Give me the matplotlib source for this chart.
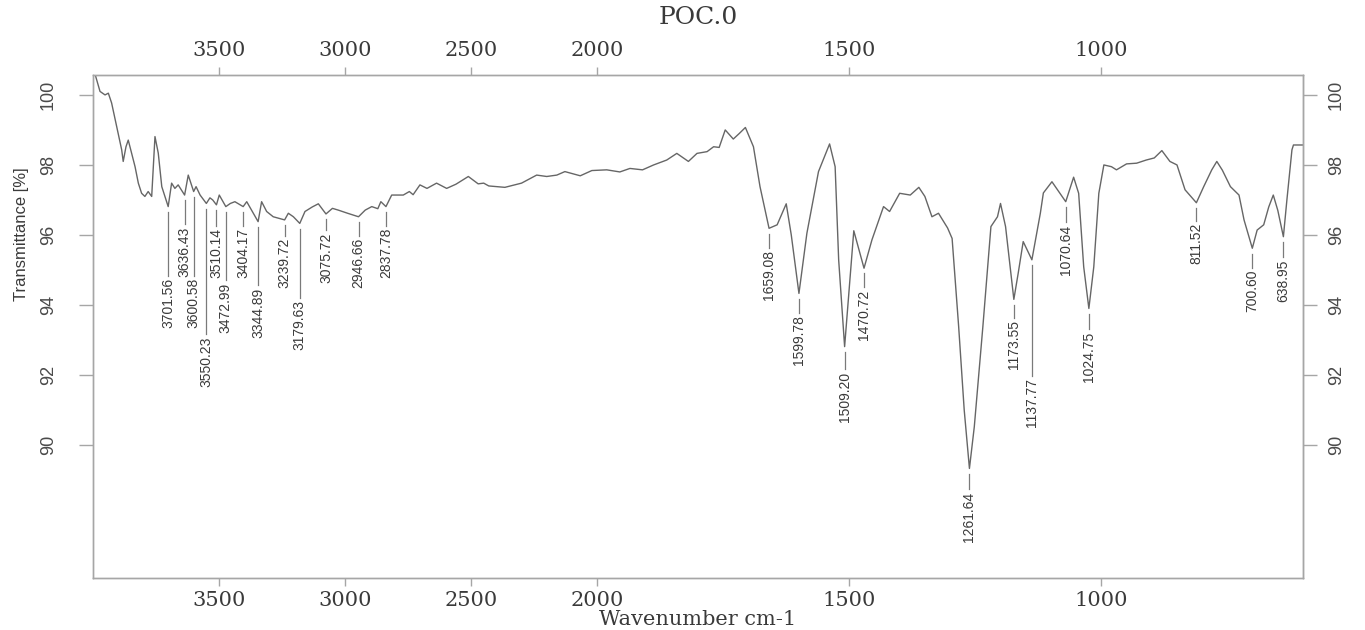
import numpy as np
import matplotlib
matplotlib.use('Agg')
import matplotlib.pyplot as plt
from matplotlib.ticker import FixedLocator, NullLocator

# FTIR spectrum of POC.0 (wavenumber cm-1, transmittance %)
wavenumber = [4000, 3972, 3952, 3939, 3926, 3906, 3886, 3880, 3869, 3860,
              3847, 3833, 3820, 3807, 3794, 3781, 3767, 3754, 3741, 3727,
              3701.56, 3688, 3675, 3662, 3636.43, 3622, 3600.58, 3591, 3575, 3550.23,
              3536, 3525, 3510.14, 3499, 3472.99, 3455, 3437, 3404.17, 3390, 3370,
              3344.89, 3331, 3311, 3285, 3239.72, 3225, 3205, 3179.63, 3159, 3130,
              3106, 3075.72, 3050, 3027, 2990, 2946.66, 2920, 2894, 2870, 2858,
              2837.78, 2815, 2769, 2745, 2730, 2703, 2675, 2637, 2597, 2560,
              2511, 2472, 2450, 2430, 2366, 2300, 2240, 2200, 2160, 2128,
              2067, 2021, 1981, 1955, 1935, 1910, 1888, 1862, 1842, 1819,
              1802, 1782, 1769, 1758, 1746, 1730, 1718, 1706, 1690, 1677,
              1659.08, 1643, 1625, 1615, 1599.78, 1584, 1561, 1539, 1528, 1521,
              1509.20, 1500, 1491, 1470.72, 1455, 1432, 1420, 1400, 1379, 1362,
              1350, 1336, 1323, 1305, 1296, 1283, 1272, 1261.64, 1252, 1235,
              1219, 1206, 1200, 1190, 1173.55, 1165, 1155, 1137.77, 1121, 1115,
              1098, 1070.64, 1055, 1045, 1035, 1024.75, 1015, 1005, 995, 980,
              970, 950, 930, 911, 895, 880, 864, 850, 834, 811.52,
              797, 781, 771, 760, 744, 727, 717, 700.60, 691, 678,
              668, 659, 650, 638.95, 632, 622, 619, 600]
transmittance = [100.8, 100.1, 100.0, 100.05, 99.77, 99.1, 98.43, 98.1, 98.52, 98.71,
                 98.34, 97.95, 97.48, 97.19, 97.1, 97.24, 97.1, 98.81, 98.34, 97.38,
                 96.81, 97.48, 97.33, 97.43, 97.14, 97.71, 97.24, 97.38, 97.14, 96.9,
                 97.06, 97.0, 96.86, 97.14, 96.81, 96.9, 96.95, 96.81, 96.95, 96.7,
                 96.38, 96.95, 96.67, 96.52, 96.43, 96.62, 96.52, 96.33, 96.67, 96.8,
                 96.89, 96.6, 96.76, 96.71, 96.62, 96.52, 96.71, 96.81, 96.75, 96.95,
                 96.81, 97.14, 97.14, 97.24, 97.15, 97.43, 97.33, 97.48, 97.33, 97.45,
                 97.67, 97.46, 97.48, 97.4, 97.36, 97.48, 97.71, 97.67, 97.71, 97.81,
                 97.69, 97.84, 97.86, 97.8, 97.9, 97.86, 98.0, 98.14, 98.33, 98.1,
                 98.33, 98.38, 98.52, 98.5, 99.0, 98.74, 98.9, 99.07, 98.52, 97.38,
                 96.19, 96.29, 96.89, 96.0, 94.33, 96.05, 97.81, 98.6, 97.95, 95.29,
                 92.81, 94.5, 96.12, 95.05, 95.86, 96.81, 96.67, 97.19, 97.14, 97.36,
                 97.1, 96.52, 96.62, 96.2, 95.9, 93.38, 91.0, 89.33, 90.52, 93.38,
                 96.24, 96.52, 96.9, 96.24, 94.16, 94.9, 95.81, 95.29, 96.62, 97.2,
                 97.52, 96.95, 97.65, 97.19, 95.09, 93.9, 95.09, 97.19, 98.0, 97.95,
                 97.86, 98.03, 98.05, 98.14, 98.2, 98.41, 98.1, 98.0, 97.29, 96.92,
                 97.38, 97.86, 98.1, 97.85, 97.38, 97.14, 96.43, 95.62, 96.14, 96.29,
                 96.8, 97.14, 96.7, 95.95, 97.0, 98.43, 98.57, 98.57]

# picked peaks
peak_wn = [3701.56, 3636.43, 3600.58, 3550.23, 3510.14, 3472.99, 3404.17,
           3344.89, 3239.72, 3179.63, 3075.72, 2946.66, 2837.78,
           1659.08, 1599.78, 1509.20, 1470.72, 1261.64, 1173.55, 1137.77,
           1070.64, 1024.75, 811.52, 700.60, 638.95]
# where each peak label starts (staggered so they don't collide)
label_top = [94.77, 96.23, 94.77, 93.09, 96.20, 94.63, 96.20,
             94.49, 95.91, 94.14, 96.06, 95.91, 96.20,
             95.57, 93.71, 92.09, 94.43, 88.66, 93.57, 91.91,
             96.29, 93.23, 96.34, 95.00, 95.29]

x_ticks = [3500, 3000, 2500, 2000, 1500, 1000]
y_ticks = [90, 92, 94, 96, 98, 100]

narrow = ['Liberation Sans Narrow', 'Liberation Sans', 'DejaVu Sans']
serif = ['DejaVu Serif']
axis_grey = '#a6a6a6'
text_grey = '#3a3a3a'


# below 2000 cm-1 the axis is stretched by a factor of two
def fwd(w):
    w = np.asarray(w, dtype=float)
    return np.where(w >= 2000, w, 2 * w - 2000)


def inv(u):
    u = np.asarray(u, dtype=float)
    return np.where(u >= 2000, u, (u + 2000) / 2)


def wn_label(v, pos):
    return f'{v:.0f}'


def wn_axis(a, side, pad):
    a.set_xscale('function', functions=(fwd, inv))
    a.set_xlim(4000, 600)
    a.xaxis.set_major_locator(FixedLocator(x_ticks))
    a.xaxis.set_minor_locator(NullLocator())
    a.xaxis.set_major_formatter(plt.FuncFormatter(wn_label))
    a.tick_params(axis='x', which='major', direction='out', length=6, width=1,
                  color=axis_grey, pad=pad, labelsize=15, labelcolor=text_grey,
                  bottom=(side == 'bottom'), labelbottom=(side == 'bottom'),
                  top=(side == 'top'), labeltop=(side == 'top'))
    for lab in a.get_xticklabels():
        lab.set_family(serif)


fig = plt.figure(figsize=(13.65, 6.3), dpi=100)
ax = fig.add_axes([0.0681, 0.0825, 0.8865, 0.7985])

wn_axis(ax, 'bottom', 3)
ax.plot(wavenumber, transmittance, color='#666666', lw=1.0)
ax.set_ylim(86.2, 100.57)

# peak markers: short line below the dip, then the rotated value
wn_inc = np.array(wavenumber)[::-1]
tr_inc = np.array(transmittance)[::-1]
for w, top in zip(peak_wn, label_top):
    dip = np.interp(w, wn_inc, tr_inc)
    ax.plot([w, w], [dip - 0.15, top + 0.07], color='#7a7a7a', lw=0.9)
    ax.text(w, top, f'{w:.2f}', rotation=90, ha='center', va='top',
            fontsize=10, family=narrow, color=text_grey)

for s in ax.spines.values():
    s.set_color(axis_grey)
    s.set_linewidth(1.0)

# same wavenumber scale repeated along the top
ax_top = ax.twiny()
wn_axis(ax_top, 'top', 5)
for s in ax_top.spines.values():
    s.set_color(axis_grey)
    s.set_linewidth(1.0)

# transmittance on both sides
ax.set_yticks(y_ticks)
ax.tick_params(axis='y', which='major', direction='out', length=10, width=1,
               color=axis_grey, pad=16, labelsize=13, labelcolor='#4a4a4a')
for lab in ax.get_yticklabels():
    lab.set_family(narrow)
    lab.set_rotation(90)
    lab.set_va('center')

right = ax.secondary_yaxis('right')
right.set_yticks(y_ticks)
right.spines['right'].set_color(axis_grey)
right.tick_params(axis='y', direction='out', length=10, width=1,
                  color=axis_grey, pad=8, labelsize=13, labelcolor='#4a4a4a')
for lab in right.get_yticklabels():
    lab.set_family(narrow)
    lab.set_rotation(90)
    lab.set_va('center')

fig.text(0.5114, 0.973, 'POC.0', ha='center', va='center',
         fontsize=18, family=serif, color=text_grey)
fig.text(0.5114, 0.002, 'Wavenumber cm-1', ha='center', va='bottom',
         fontsize=15, family=serif, color=text_grey)
fig.text(0.0155, 1 - 234 / 630, 'Transmittance [%]', rotation=90,
         ha='center', va='center', fontsize=12, family=narrow, color=text_grey)

fig.savefig('out.png', dpi=100)
